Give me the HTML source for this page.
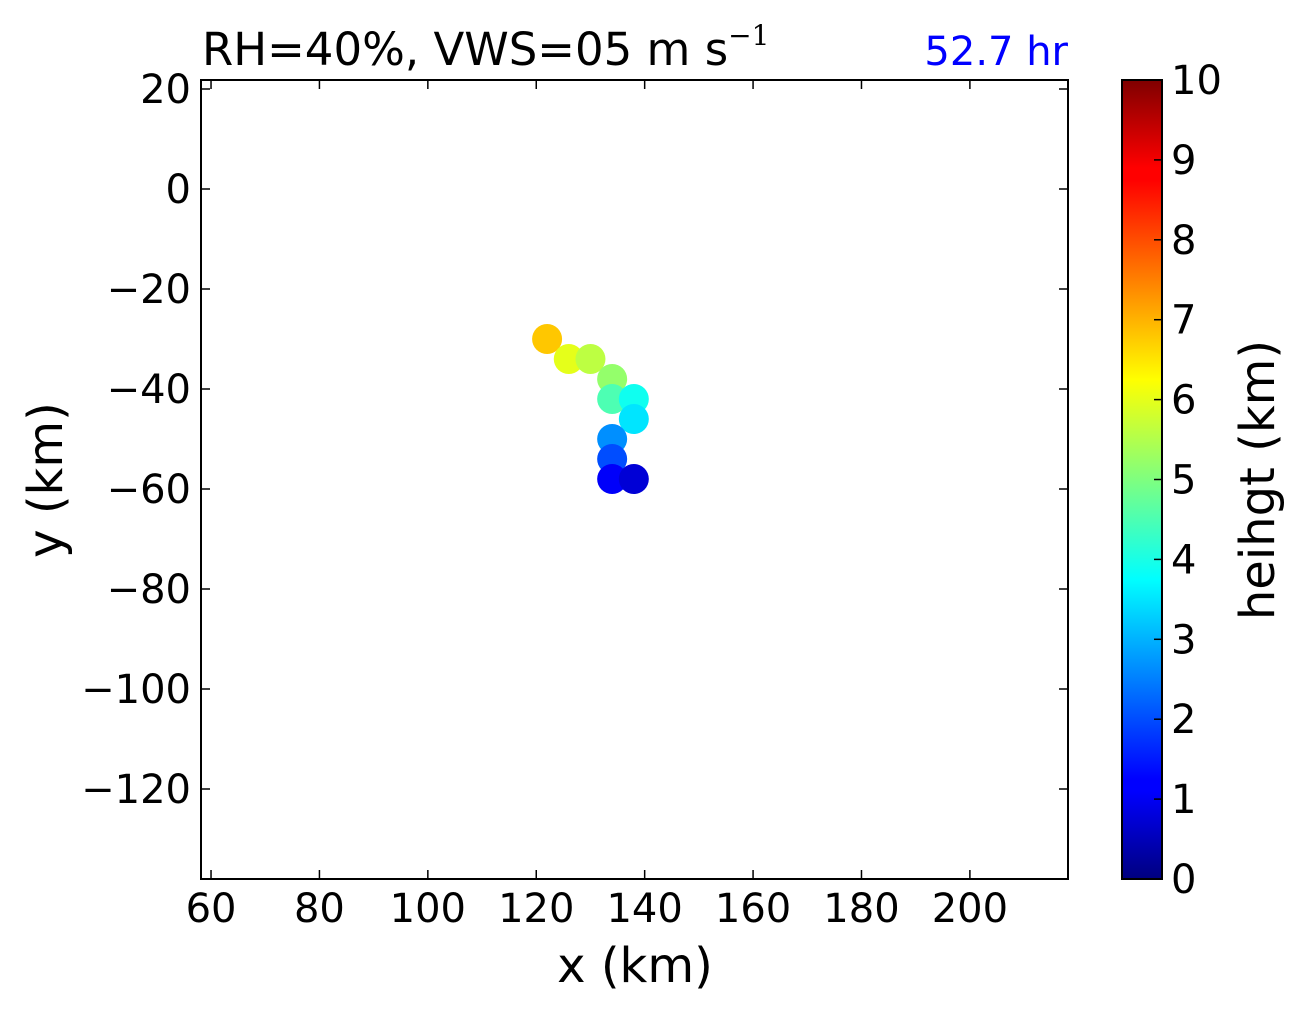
<!DOCTYPE html>
<html><head><meta charset="utf-8"><style>
body{margin:0;background:#fff}
text{font-family:"DejaVu Sans","Liberation Sans",sans-serif}
</style></head><body>
<svg id="c" width="1304" height="1012" xmlns="http://www.w3.org/2000/svg">
<defs>
<linearGradient id="jet" x1="0" y1="1" x2="0" y2="0">
<stop offset="0" stop-color="#00007f"/><stop offset="0.11" stop-color="#0000ff"/>
<stop offset="0.125" stop-color="#0000ff"/><stop offset="0.34" stop-color="#00dbff"/>
<stop offset="0.375" stop-color="#0ff"/><stop offset="0.5" stop-color="#7fff7f"/>
<stop offset="0.625" stop-color="#ff0"/><stop offset="0.66" stop-color="#ffdb00"/>
<stop offset="0.875" stop-color="#f00"/><stop offset="0.89" stop-color="#f00"/>
<stop offset="1" stop-color="#7f0000"/>
</linearGradient>
</defs>
<g id="plot"></g>
</svg>
<script>
const xs=[122,126,130,134,134,138,138,134,134,134,138];
const ys=[-30,-34,-34,-38,-42,-42,-46,-50,-54,-58,-58];
const hs=[6.8,6.0,5.6,5.2,4.5,3.9,3.5,2.65,2.0,1.2,0.85];
const xTicks=[60,80,100,120,140,160,180,200];
const yTicks=[20,0,-20,-40,-60,-80,-100,-120];
const cbTicks=[0,1,2,3,4,5,6,7,8,9,10];
const L=201,R=1068,T=80,B=879,x0=58.15,x1=218.1,y0=-138,y1=21.8;
const X=v=>L+(v-x0)/(x1-x0)*(R-L), Y=v=>B-(v-y0)/(y1-y0)*(B-T);
const NS='http://www.w3.org/2000/svg', svg=document.getElementById('c'), g=document.getElementById('plot');
function mk(t,a,p){const e=document.createElementNS(NS,t);for(const k in a)e.setAttribute(k,a[k]);(p||svg).appendChild(e);return e;}
function jet(v){v=Math.max(0,Math.min(1,v));const c=x=>Math.round(255*Math.max(0,Math.min(1,1.5-Math.abs(4*v-x))));return `rgb(${c(3)},${c(2)},${c(1)})`;}
for(let i=0;i<xs.length;i++){const e=mk('circle',{cx:X(xs[i]),cy:Y(ys[i]),r:15,fill:jet(hs[i]/10)},g);

}
const fr=mk('rect',{x:L,y:T,width:R-L,height:B-T,fill:'none',stroke:'#000','stroke-width':2});


xTicks.forEach(v=>{const x=X(v);mk('line',{x1:x,x2:x,y1:B,y2:B-9,stroke:'#000','stroke-width':1.5});mk('line',{x1:x,x2:x,y1:T,y2:T+9,stroke:'#000','stroke-width':1.5});
const t=mk('text',{x:x,y:B+43,'font-size':40,'text-anchor':'middle'});t.textContent=v;

});
yTicks.forEach(v=>{const y=Y(v);mk('line',{x1:L,x2:L+9,y1:y,y2:y,stroke:'#000','stroke-width':1.5});mk('line',{x1:R,x2:R-9,y1:y,y2:y,stroke:'#000','stroke-width':1.5});
const t=mk('text',{x:L-10,y:y+14,'font-size':40,'text-anchor':'end'});t.textContent=String(v).replace('-','\u2212');

});
const CL=1122,CR=1162;
const cb=mk('rect',{x:CL,y:T,width:CR-CL,height:B-T,fill:'url(#jet)',stroke:'#000','stroke-width':2});


cbTicks.forEach(v=>{const y=B-v/10*(B-T);mk('line',{x1:CR,x2:CR-8,y1:y,y2:y,stroke:'#000','stroke-width':1.5});
const t=mk('text',{x:CR+9,y:y+14,'font-size':40});t.textContent=v;

});
</script>
<svg style="position:absolute;left:0;top:0" width="1304" height="1012" xmlns="http://www.w3.org/2000/svg">
<text x="635" y="982" font-size="48" text-anchor="middle" font-family="DejaVu Sans,sans-serif">x (km)</text>
<text transform="translate(62,480) rotate(-90)" font-size="48" text-anchor="middle" font-family="DejaVu Sans,sans-serif">y (km)</text>
<text transform="translate(1274,480) rotate(-90)" font-size="48" text-anchor="middle" font-family="DejaVu Sans,sans-serif">heihgt (km)</text>
<text x="202" y="65" font-size="45" font-family="DejaVu Sans,sans-serif">RH=40%, VWS=05 m s<tspan font-size="28" dy="-20" font-family="DejaVu Serif,serif">−1</tspan></text>
<text x="1068" y="65" font-size="40" fill="#0000ff" text-anchor="end" font-family="DejaVu Sans,sans-serif">52.7 hr</text>
</svg>
</body></html>
